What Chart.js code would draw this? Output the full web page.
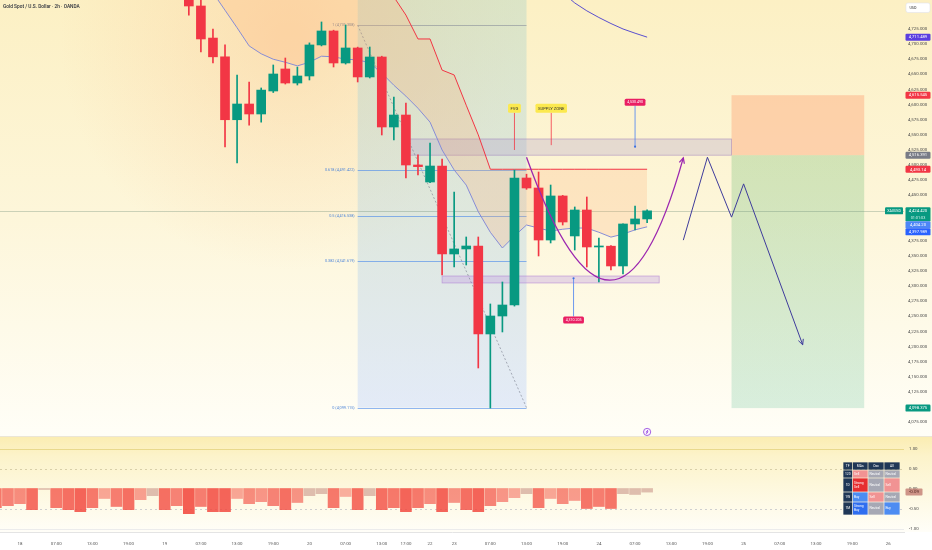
<!DOCTYPE html>
<html>
<head>
<meta charset="utf-8">
<script src="https://cdn.jsdelivr.net/npm/chart.js@4.4.1/dist/chart.umd.min.js"></script>
<style>
  html, body { margin: 0; padding: 0; background: #fff; }
  #wrap { width: 932px; height: 550px; }
</style>
</head>
<body>
<div id="wrap"><canvas id="chart" width="932" height="550"></canvas></div>
<script>
// ---- data (x = 2h slot, 0 = day 18 01:00) ----
const candleSlots = [14,15,16,17,18,19,20,21,22,23,24,25,26,27,28,29,30,31,32,33,34,35,36,37,38,39,40,41,42,43,44,45,46,47,48,49,50,51,52];
const opens  = [4780,4763,4710,4679,4575,4601,4584.5,4622.5,4658.9,4635.7,4647.3,4698.6,4721.7,4668.8,4693.6,4645.7,4678.7,4563,4582.8,4500.2,4472.1,4498.5,4353.1,4361.4,4366.3,4220.9,4250.6,4268.8,4478.7,4462.2,4376.2,4449,4382.9,4425.8,4364.7,4366,4333.3,4402.7,4411];
const highs  = [4790,4775,4725,4698.6,4649,4637.4,4627.5,4665.5,4677,4662,4702,4736.6,4723,4731.6,4695,4695.2,4680,4612.6,4602.7,4517,4536.6,4510.1,4455.6,4381.2,4381.2,4270.5,4306.8,4491.9,4485,4488.6,4467.1,4450,4430.8,4447.3,4379.5,4367,4403,4432.4,4426];
const lows   = [4748,4687,4669,4530,4503.5,4566,4571,4620,4634,4632.4,4640.7,4697,4662.2,4667,4637.4,4644,4549.8,4541.5,4478.7,4483.7,4471,4318.4,4331.6,4334.9,4164.7,4098.5,4224.2,4267,4460,4349.8,4371.3,4401,4359.7,4331.6,4306.8,4326.6,4320,4392.7,4405];
const closes = [4763,4708.5,4679,4575,4601,4584.5,4624,4650.6,4635.7,4647.3,4698.6,4721.7,4668.8,4693.6,4645.7,4678.7,4563,4582.8,4500.2,4497.5,4498.5,4353.1,4361.4,4366.3,4220.9,4250.6,4268.8,4478.7,4462.2,4376.2,4449,4406,4425.8,4364.7,4366,4333.3,4402.7,4411,4424.42];

const maFast    = [4830,4805,4785,4756,4727,4697,4684,4675,4670,4664,4670,4680,4679,4675,4674,4669,4652,4632,4614,4594,4571,4525,4492,4467,4423,4389,4363,4383,4401,4396,4391,4394,4396,4396,4389,4381,4386,4393,4398];
const trendStop = [4860,4860,4860,4860,4860,4860,4860,4860,4860,4860,4860,4860,4860,4860,4860,4860,4860,4778,4748,4708.5,4708.5,4657,4649,4599,4550,4493.14,4493.14,4493.14,4493.14,4493.14,4493.14,4493.14,4493.14,4493.14,4493.14,4493.14,4493.14,4493.14,4493.14];
const maSlowSlots = [45,46,47,48,49,50,51,52];
const maSlow      = [4785,4768,4755,4744,4734,4725,4718,4711.489];

const oscSlots  = [-2,-1,0,1,2,3,4,5,6,7,8,9,10,11,12,13,14,15,16,17,18,19,20,21,22,23,24,25,26,27,28,29,30,31,32,33,34,35,36,37,38,39,40,41,42,43,44,45,46,47,48,49,50,51,52];
const oscValues = [-0.48,-0.43,-0.38,-0.53,-0.01,-0.48,-0.53,-0.58,-0.48,-0.25,-0.45,-0.53,-0.28,-0.18,-0.53,-0.43,-0.63,-0.45,-0.58,-0.58,-0.25,-0.38,-0.33,-0.43,-0.53,-0.35,-0.18,-0.13,-0.48,-0.20,-0.53,-0.18,-0.53,-0.48,-0.58,-0.48,-0.38,-0.58,-0.35,-0.53,-0.58,-0.43,-0.33,-0.23,-0.13,-0.48,-0.25,-0.38,-0.30,-0.50,-0.45,-0.50,-0.13,-0.15,-0.09];
const oscTicks = [1, 0.5, 0, -0.5, -1];

const timeTickSlots  = [0,3,6,9,12,15,18,21,24,27,30,32,34,36,39,42,45,48,51,54,57,60,63,66,69,72];
const timeTickLabels = ['18','07:00','13:00','19:00','19','07:00','13:00','19:00','20','07:00','13:00','17:00','22','23','07:00','13:00','19:00','24','07:00','13:00','19:00','25','07:00','13:00','19:00','26'];
const priceTicks = [4725,4700,4675,4650,4625,4600,4575,4550,4525,4500,4475,4450,4375,4350,4325,4300,4275,4250,4225,4200,4175,4150,4125,4075];

const fibSlots  = [28, 42];
const fibRatios = ['1', '0.618', '0.5', '0.382', '0'];
const fibPrices = [4731.308, 4491.422, 4416.538, 4341.619, 4099.115];

const supplySlots = [32.3, 59.0];   const supplyPrices = [4543.2, 4516.4];
const demandSlots = [35.0, 53.0];   const demandPrices = [4316.7, 4305.2];
const positionSlots = [59.0, 70.0]; const positionPrices = [4615.545, 4516.391, 4098.375];
const cupSlots = [42.0, 49.3, 55.0]; const cupPrices = [4513, 4107, 4512];
const pathSlots = [55.0, 57.0, 59.0, 60.0, 64.9]; const pathPrices = [4376, 4513, 4414, 4469, 4203];

const noteTexts = ['FVG', 'SUPPLY ZONE']; const noteSlots = [41.0, 44.05]; const notePrices = [4594, 4594]; const noteEnds = [4525, 4533];
const pinTexts = ['4,530.490', '4,310.205']; const pinSlots = [51.0, 45.9]; const pinBadgePrices = [4604, 4244]; const pinTipPrices = [4530.49, 4313];
const eventSlot = 52; const eventPrice = 4059;
const lastPrice = 4424.42; const lastOsc = -0.09;

const tagValues = [4711.489, 4615.545, 4516.391, 4493.14, 4424.42, 4404.20, 4397.989, 4098.375];
const tagTexts  = ['4,711.489', '4,615.545', '4,516.391', '4,493.14', '4,424.420', '4,404.20', '4,397.989', '4,098.375'];
const tagColors = ['#5b3fe0', '#f23645', '#787b86', '#f23645', '#089981', '#4d86f7', '#2962ff', '#089981'];

const tableHead = ['TF', 'MAs', 'Osc', 'All'];
const tableRows = [
  ['120', 'Sell', 'Neutral', 'Neutral'],
  ['1D', 'Strong Sell', 'Neutral', 'Sell'],
  ['1W', 'Buy', 'Sell', 'Neutral'],
  ['1M', 'Strong Buy', 'Neutral', 'Buy']
];
const ratingColors = {'Strong Sell':'#e62e30', 'Sell':'#f19393', 'Neutral':'#a6a8b4', 'Buy':'#4d8cf2', 'Strong Buy':'#2f6ef0'};

// ---- view ranges ----
const xMin = -1.658, xMax = 73.3;
const priceMax = 4772.9, priceMin = 3893.6, paneSplitPrice = 4052;
const oscMax = 12.2125, oscMin = -1.0875;

Chart.defaults.font.family = 'Roboto';

const candleColors = candleSlots.map((s, i) => closes[i] >= opens[i] ? '#089981' : '#f23645');
function oscColor(v) {
  const m = Math.abs(v);
  if (m < 0.2) return 'rgba(196,140,132,0.55)';
  const a = Math.min(0.88, 0.42 + (m - 0.2) * 1.1);
  return 'rgba(242,72,62,' + a.toFixed(2) + ')';
}
function fmt(v, d) { return v.toLocaleString('en-US', {minimumFractionDigits: d, maximumFractionDigits: d}); }
function rrect(ctx, x, y, w, h, r) { ctx.beginPath(); if (ctx.roundRect) ctx.roundRect(x, y, w, h, r); else ctx.rect(x, y, w, h); }
function arrowHead(ctx, x0, y0, x1, y1, size) {
  const a = Math.atan2(y1 - y0, x1 - x0);
  ctx.beginPath();
  ctx.moveTo(x1 - size * Math.cos(a - 0.45), y1 - size * Math.sin(a - 0.45));
  ctx.lineTo(x1, y1);
  ctx.lineTo(x1 - size * Math.cos(a + 0.45), y1 - size * Math.sin(a + 0.45));
  ctx.stroke();
}

const drawings = {
  id: 'drawings',
  beforeDraw(chart) {
    const {ctx, width, height, chartArea: ca} = chart;
    const split = Math.round(chart.scales.y.getPixelForValue(paneSplitPrice));
    ctx.save();
    ctx.fillStyle = '#fff'; ctx.fillRect(0, 0, width, height);
    let g = ctx.createLinearGradient(0, 0, 0, split);
    g.addColorStop(0, '#fcf0c4'); g.addColorStop(0.5, '#fdf6da'); g.addColorStop(1, '#fffef7');
    ctx.fillStyle = g; ctx.fillRect(0, 0, width, split);
    const r = ctx.createRadialGradient(290, 40, 10, 290, 40, 230);
    r.addColorStop(0, 'rgba(250,200,150,0.40)'); r.addColorStop(1, 'rgba(250,200,150,0)');
    ctx.fillStyle = r; ctx.fillRect(0, 0, width, split);
    g = ctx.createLinearGradient(0, split + 1, 0, ca.bottom);
    g.addColorStop(0, '#fbedb2'); g.addColorStop(0.2, '#fcf3ca'); g.addColorStop(1, '#fffef8');
    ctx.fillStyle = g; ctx.fillRect(0, split + 1, width, ca.bottom - split - 1);
    ctx.fillStyle = '#fff'; ctx.fillRect(0, ca.bottom, width, height - ca.bottom);
    ctx.fillStyle = '#ebe6d6'; ctx.fillRect(0, split, width, 1);
    ctx.restore();
  },
  beforeDatasetsDraw(chart) {
    const {ctx, chartArea: ca} = chart;
    const X = v => chart.scales.x.getPixelForValue(v);
    const Y = v => chart.scales.y.getPixelForValue(v);
    const Y2 = v => chart.scales.y2.getPixelForValue(v);
    ctx.save();
    ctx.beginPath(); ctx.rect(ca.left, ca.top, ca.right - ca.left, ca.bottom - ca.top); ctx.clip();

    // fib area
    const bx0 = X(fibSlots[0]), bx1 = X(fibSlots[1]), byb = Y(fibPrices[4]);
    let g = ctx.createLinearGradient(0, ca.top, 0, byb);
    g.addColorStop(0, 'rgba(175,212,200,0.42)'); g.addColorStop(1, 'rgba(205,220,250,0.55)');
    ctx.fillStyle = g; ctx.fillRect(bx0, ca.top, bx1 - bx0, byb - ca.top);

    // position tool
    const px0 = X(positionSlots[0]), px1 = X(positionSlots[1]);
    const pt = Y(positionPrices[0]), pm = Y(positionPrices[1]), pb = Y(positionPrices[2]);
    ctx.fillStyle = 'rgba(255,140,90,0.33)'; ctx.fillRect(px0, pt, px1 - px0, pm - pt);
    g = ctx.createLinearGradient(0, pm, 0, pb);
    g.addColorStop(0, 'rgba(95,180,100,0.27)'); g.addColorStop(1, 'rgba(95,190,150,0.24)');
    ctx.fillStyle = g; ctx.fillRect(px0, pm, px1 - px0, pb - pm);

    // zones
    const zone = (s, p, fill, stroke) => {
      const x0 = X(s[0]), x1 = X(s[1]), y0 = Y(p[0]), y1 = Y(p[1]);
      ctx.fillStyle = fill; ctx.fillRect(x0, y0, x1 - x0, y1 - y0);
      ctx.strokeStyle = stroke; ctx.lineWidth = 0.8; ctx.strokeRect(x0, y0, x1 - x0, y1 - y0);
    };
    zone(supplySlots, supplyPrices, 'rgba(170,150,200,0.28)', 'rgba(150,115,185,0.55)');
    zone(demandSlots, demandPrices, 'rgba(195,160,225,0.38)', 'rgba(170,120,210,0.6)');

    // fib levels
    ctx.font = '3.8px Roboto';
    ctx.textAlign = 'right'; ctx.textBaseline = 'middle';
    fibPrices.forEach((p, i) => {
      const y = Math.round(Y(p)) + 0.5;
      ctx.strokeStyle = i === 0 ? 'rgba(130,135,150,0.55)' : 'rgba(70,135,235,0.6)';
      ctx.lineWidth = 1;
      ctx.beginPath(); ctx.moveTo(bx0, y); ctx.lineTo(bx1, y); ctx.stroke();
      ctx.fillStyle = i === 0 ? '#7d8290' : '#4f86d8';
      ctx.fillText(fibRatios[i] + ' (' + fmt(p, 3) + ')', bx0 - 3, y);
    });
    ctx.setLineDash([2, 2]);
    ctx.strokeStyle = 'rgba(120,125,140,0.6)';
    ctx.beginPath(); ctx.moveTo(bx0, Y(fibPrices[0])); ctx.lineTo(bx1, Y(fibPrices[4])); ctx.stroke();
    ctx.setLineDash([]);

    // last price line
    const ly = Math.round(Y(lastPrice)) + 0.5;
    ctx.strokeStyle = 'rgba(110,140,120,0.35)';
    ctx.beginPath(); ctx.moveTo(ca.left, ly); ctx.lineTo(ca.right, ly); ctx.stroke();

    // oscillator levels
    const lev = (v, color, dash) => {
      const y = Math.round(Y2(v)) + 0.5;
      ctx.strokeStyle = color; ctx.setLineDash(dash);
      ctx.beginPath(); ctx.moveTo(ca.left, y); ctx.lineTo(ca.right, y); ctx.stroke();
    };
    lev(1, '#e9d98c', []);
    lev(0.5, '#d8cfa8', [2, 3]);
    lev(-0.5, '#cfcfcf', [2, 3]);
    lev(-1, '#ececec', []);
    ctx.restore();
  },
  afterDatasetsDraw(chart) {
    const {ctx, chartArea: ca} = chart;
    const X = v => chart.scales.x.getPixelForValue(v);
    const Y = v => chart.scales.y.getPixelForValue(v);
    ctx.save();

    // cup curve
    const c0 = [X(cupSlots[0]), Y(cupPrices[0])], c1 = [X(cupSlots[1]), Y(cupPrices[1])], c2 = [X(cupSlots[2]), Y(cupPrices[2])];
    ctx.strokeStyle = '#9c27b0'; ctx.lineWidth = 1.3;
    ctx.beginPath(); ctx.moveTo(c0[0], c0[1]); ctx.quadraticCurveTo(c1[0], c1[1], c2[0], c2[1]); ctx.stroke();
    arrowHead(ctx, c1[0], c1[1], c2[0], c2[1], 6);

    // path arrow
    const n = pathSlots.length;
    ctx.strokeStyle = '#3f3c9c'; ctx.lineWidth = 1;
    arrowHead(ctx, X(pathSlots[n - 2]), Y(pathPrices[n - 2]), X(pathSlots[n - 1]), Y(pathPrices[n - 1]), 6);

    // notes
    ctx.textAlign = 'center'; ctx.textBaseline = 'middle';
    noteTexts.forEach((t, i) => {
      const x = X(noteSlots[i]), y = Y(notePrices[i]);
      ctx.font = '4.2px Roboto';
      const w = ctx.measureText(t).width + 5, h = 9;
      ctx.strokeStyle = '#f23645'; ctx.lineWidth = 0.8;
      ctx.beginPath(); ctx.moveTo(x, y + h / 2); ctx.lineTo(x, Y(noteEnds[i])); ctx.stroke();
      ctx.fillStyle = '#fce94f'; rrect(ctx, x - w / 2, y - h / 2, w, h, 1.5); ctx.fill();
      ctx.fillStyle = '#333'; ctx.fillText(t, x, y + 0.3);
    });

    // price pins
    pinTexts.forEach((t, i) => {
      const x = X(pinSlots[i]), yb = Y(pinBadgePrices[i]), yt = Y(pinTipPrices[i]);
      ctx.font = '3.6px Roboto';
      const w = ctx.measureText(t).width + 5, h = 7;
      const edge = yt > yb ? yb + h / 2 : yb - h / 2;
      ctx.strokeStyle = '#5b8def'; ctx.lineWidth = 0.9;
      ctx.beginPath(); ctx.moveTo(x, edge); ctx.lineTo(x, yt); ctx.stroke();
      ctx.fillStyle = '#3b6fe0'; ctx.beginPath(); ctx.arc(x, yt, 1.1, 0, Math.PI * 2); ctx.fill();
      ctx.fillStyle = '#e91e63'; rrect(ctx, x - w / 2, yb - h / 2, w, h, 1.5); ctx.fill();
      ctx.fillStyle = '#fff'; ctx.fillText(t, x, yb + 0.3);
    });

    // event marker
    const ex = X(eventSlot), ey = Y(eventPrice);
    ctx.fillStyle = '#fbf3ff'; ctx.strokeStyle = '#9b51e0'; ctx.lineWidth = 0.9;
    ctx.beginPath(); ctx.arc(ex, ey, 3.6, 0, Math.PI * 2); ctx.fill(); ctx.stroke();
    ctx.beginPath(); ctx.moveTo(ex + 0.8, ey - 2); ctx.lineTo(ex - 0.9, ey + 0.3); ctx.lineTo(ex + 0.9, ey - 0.3); ctx.lineTo(ex - 0.8, ey + 2); ctx.stroke();
    ctx.restore();
  },
  afterDraw(chart) {
    const {ctx, chartArea: ca, width} = chart;
    const Y = v => chart.scales.y.getPixelForValue(v);
    const Y2 = v => chart.scales.y2.getPixelForValue(v);
    ctx.save();
    ctx.textAlign = 'center'; ctx.textBaseline = 'middle';

    // price tags
    let prevBottom = -99;
    const tw = width - ca.right - 3;
    tagValues.map((v, i) => i).sort((a, b) => Y(tagValues[a]) - Y(tagValues[b])).forEach(i => {
      const big = tagValues[i] === lastPrice;
      const h = big ? 14 : 7;
      let top = Y(tagValues[i]) - 3.5;
      if (top < prevBottom) top = prevBottom;
      prevBottom = top + h;
      ctx.fillStyle = tagColors[i];
      rrect(ctx, ca.right + 1.5, top, tw, h, 1.2); ctx.fill();
      ctx.fillStyle = '#fff'; ctx.font = '4.2px Roboto';
      ctx.fillText(tagTexts[i], ca.right + 1.5 + tw / 2, top + 3.7);
      if (big) {
        ctx.font = '3.8px Roboto'; ctx.fillStyle = '#d7f5ee';
        ctx.fillText('01:01:03', ca.right + 1.5 + tw / 2, top + 10.3);
        ctx.fillStyle = '#089981';
        rrect(ctx, ca.right - 19, top, 18, 7, 1.2); ctx.fill();
        ctx.fillStyle = '#fff'; ctx.font = '3.6px Roboto';
        ctx.fillText('XAUUSD', ca.right - 10, top + 3.7);
      }
    });

    // oscillator axis
    ctx.textAlign = 'left'; ctx.font = '4.4px Roboto'; ctx.fillStyle = '#4a4a4a';
    oscTicks.forEach(v => ctx.fillText(fmt(v, 2), ca.right + 5, Y2(v)));
    const oy = Y2(lastOsc);
    ctx.fillStyle = 'rgba(190,115,105,0.75)';
    rrect(ctx, ca.right + 1.5, oy - 3.5, 17, 7, 1); ctx.fill();
    ctx.fillStyle = '#4a1f1a'; ctx.textAlign = 'center';
    ctx.fillText(fmt(lastOsc, 2), ca.right + 10, oy + 0.2);

    // ratings table
    const colW = [9.5, 15.5, 16, 16], rowH = [8, 8, 14, 10, 13];
    const tWidth = colW.reduce((a, b) => a + b, 0), tHeight = rowH.reduce((a, b) => a + b, 0);
    const tx = ca.right - 4 - tWidth, ty = ca.bottom - 17 - tHeight;
    const rows = [tableHead].concat(tableRows);
    let yy = ty;
    rows.forEach((row, r) => {
      let xx = tx;
      row.forEach((cell, c) => {
        ctx.fillStyle = (r === 0 || c === 0) ? '#1f3756' : ratingColors[cell];
        ctx.fillRect(xx + 0.35, yy + 0.35, colW[c] - 0.7, rowH[r] - 0.7);
        ctx.fillStyle = '#fff'; ctx.font = '3.3px Roboto';
        const words = cell.split(' ');
        if (words.length > 1 && rowH[r] > 11) {
          ctx.textAlign = 'left';
          ctx.fillText(words[0], xx + 1.5, yy + rowH[r] / 2 - 2);
          ctx.fillText(words[1], xx + 1.5, yy + rowH[r] / 2 + 2);
        } else {
          ctx.textAlign = (r === 0 || c === 0) ? 'center' : 'left';
          ctx.fillText(cell, (r === 0 || c === 0) ? xx + colW[c] / 2 : xx + 1.5, yy + rowH[r] / 2);
        }
        xx += colW[c];
      });
      yy += rowH[r];
    });

    // title and currency button
    ctx.textAlign = 'left'; ctx.fillStyle = '#2a2e39'; ctx.font = '500 4.8px Roboto';
    ctx.fillText('Gold Spot / U.S. Dollar \u00b7 2h \u00b7 OANDA', 3, 7);
    ctx.fillStyle = '#fff'; ctx.strokeStyle = '#e0e3eb'; ctx.lineWidth = 0.6;
    rrect(ctx, ca.right + 2, 3, 24, 9.5, 2); ctx.fill(); ctx.stroke();
    ctx.fillStyle = '#333'; ctx.textAlign = 'center'; ctx.font = '3.8px Roboto';
    ctx.fillText('USD', ca.right + 9, 7.8);
    ctx.restore();
  }
};

new Chart(document.getElementById('chart'), {
  type: 'bar',
  data: {
    datasets: [
      { type: 'line', label: 'stop', data: candleSlots.map((s, i) => ({x: s, y: trendStop[i]})),
        borderColor: '#f23645', borderWidth: 1, pointRadius: 0, tension: 0, yAxisID: 'y', order: 5,
        fill: {target: 1, above: 'rgba(255,170,110,0.22)', below: 'rgba(0,0,0,0)'} },
      { type: 'line', label: 'ma fast', data: candleSlots.map((s, i) => ({x: s, y: maFast[i]})),
        borderColor: '#878cd6', borderWidth: 1, pointRadius: 0, tension: 0, fill: false, yAxisID: 'y', order: 4 },
      { type: 'line', label: 'ma slow', data: maSlowSlots.map((s, i) => ({x: s, y: maSlow[i]})),
        borderColor: '#5a4fcf', borderWidth: 1, pointRadius: 0, tension: 0, fill: false, yAxisID: 'y', order: 4 },
      { type: 'bar', label: 'osc', data: oscSlots.map((s, i) => ({x: s, y: oscValues[i]})),
        backgroundColor: oscValues.map(oscColor), barThickness: 11, minBarLength: 1, grouped: false, yAxisID: 'y2', order: 6 },
      { type: 'bar', label: 'wicks', data: candleSlots.map((s, i) => ({x: s, y: [lows[i], highs[i]]})),
        backgroundColor: candleColors, barThickness: 1, grouped: false, yAxisID: 'y', order: 2 },
      { type: 'bar', label: 'bodies', data: candleSlots.map((s, i) => ({x: s, y: [opens[i], closes[i]]})),
        backgroundColor: candleColors, barThickness: 9, minBarLength: 1, grouped: false, yAxisID: 'y', order: 1 },
      { type: 'line', label: 'path', data: pathSlots.map((s, i) => ({x: s, y: pathPrices[i]})),
        borderColor: '#3f3c9c', borderWidth: 1, pointRadius: 0, tension: 0, fill: false, yAxisID: 'y', order: 0 }
    ]
  },
  options: {
    responsive: false,
    animation: false,
    devicePixelRatio: 1,
    layout: { padding: 0 },
    plugins: { legend: { display: false }, tooltip: { enabled: false } },
    scales: {
      x: {
        type: 'linear', min: xMin, max: xMax, offset: false,
        grid: { display: false, drawTicks: false },
        border: { display: true, color: '#e4e4e4' },
        afterBuildTicks: s => { s.ticks = timeTickSlots.map(v => ({value: v})); },
        afterFit: s => { s.height = 18; s.paddingLeft = 0; s.paddingRight = 0; },
        ticks: { autoSkip: false, maxRotation: 0, padding: 9, color: '#555', font: { size: 4.4 },
          callback: (v, i) => timeTickLabels[i] }
      },
      y: {
        position: 'right', min: priceMin, max: priceMax,
        grid: { display: false, drawTicks: false },
        border: { display: false },
        afterBuildTicks: s => { s.ticks = priceTicks.map(v => ({value: v})); },
        afterFit: s => { s.width = 28; s.paddingTop = 0; s.paddingBottom = 0; },
        ticks: { autoSkip: false, padding: 4, color: '#4a4a4a', font: { size: 4.4 },
          callback: (v, i) => fmt(priceTicks[i], 3) }
      },
      y2: { display: false, min: oscMin, max: oscMax }
    }
  },
  plugins: [drawings]
});
</script>
</body>
</html>
